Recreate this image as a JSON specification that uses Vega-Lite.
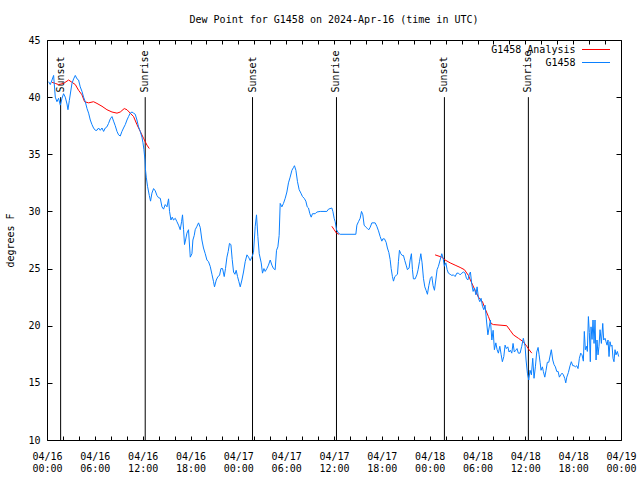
{
  "$schema": "https://vega.github.io/schema/vega-lite/v6.json",
  "width": 574,
  "height": 400,
  "autosize": "none",
  "padding": {"left": 47, "top": 40, "right": 19, "bottom": 40},
  "background": "white",
  "config": {
    "view": {"stroke": "black", "strokeWidth": 1},
    "font": "DejaVu Sans Mono",
    "axis": {"labelFont": "DejaVu Sans Mono", "labelFontSize": 10, "labelColor": "black", "titleFont": "DejaVu Sans Mono", "titleFontSize": 10, "titleFontWeight": "normal", "titleColor": "black", "grid": false, "domain": false, "tickColor": "black", "tickSize": -5, "labelPadding": 12}
  },
  "title": {"text": "Dew Point for G1458 on 2024-Apr-16 (time in UTC)", "font": "DejaVu Sans Mono", "fontSize": 10, "fontWeight": "normal", "color": "black", "offset": 10},
  "datasets": {
    "sun": [
      {"h": 1.71, "e": "Sunset"}, {"h": 12.32, "e": "Sunrise"}, {"h": 25.78, "e": "Sunset"},
      {"h": 36.31, "e": "Sunrise"}, {"h": 49.85, "e": "Sunset"}, {"h": 60.38, "e": "Sunrise"}
    ],
    "ana": [
      {"h": 0.63, "v": 41.3, "g": 1}, {"h": 1.04, "v": 41.2, "g": 1}, {"h": 1.45, "v": 41.1, "g": 1}, {"h": 2.08, "v": 41.2, "g": 1},
      {"h": 2.71, "v": 41.5, "g": 1}, {"h": 3.13, "v": 41.3, "g": 1}, {"h": 3.55, "v": 41.1, "g": 1}, {"h": 3.96, "v": 40.6, "g": 1},
      {"h": 4.39, "v": 40.2, "g": 1}, {"h": 4.71, "v": 39.6, "g": 1}, {"h": 5.22, "v": 39.5, "g": 1}, {"h": 5.84, "v": 39.6, "g": 1},
      {"h": 6.27, "v": 39.45, "g": 1}, {"h": 6.9, "v": 39.2, "g": 1}, {"h": 7.52, "v": 38.9, "g": 1}, {"h": 8.15, "v": 38.7, "g": 1},
      {"h": 8.78, "v": 38.6, "g": 1}, {"h": 9.19, "v": 38.7, "g": 1}, {"h": 9.69, "v": 39.0, "g": 1}, {"h": 10.03, "v": 38.9, "g": 1},
      {"h": 10.44, "v": 38.6, "g": 1}, {"h": 10.86, "v": 38.3, "g": 1}, {"h": 11.28, "v": 37.6, "g": 1}, {"h": 11.7, "v": 37.0, "g": 1},
      {"h": 12.11, "v": 36.4, "g": 1}, {"h": 12.54, "v": 35.8, "g": 1}, {"h": 12.83, "v": 35.5, "g": 1},
      {"h": 35.73, "v": 28.7, "g": 2}, {"h": 36.02, "v": 28.4, "g": 2}, {"h": 36.31, "v": 28.1, "g": 2}, {"h": 36.61, "v": 28.0, "g": 2},
      {"h": 48.68, "v": 26.2, "g": 3}, {"h": 49.52, "v": 26.0, "g": 3}, {"h": 49.94, "v": 25.75, "g": 3}, {"h": 50.57, "v": 25.5, "g": 3},
      {"h": 51.19, "v": 25.3, "g": 3}, {"h": 51.82, "v": 25.1, "g": 3}, {"h": 52.36, "v": 24.9, "g": 3}, {"h": 52.86, "v": 24.4, "g": 3},
      {"h": 53.2, "v": 23.85, "g": 3}, {"h": 53.7, "v": 23.1, "g": 3}, {"h": 54.12, "v": 22.5, "g": 3}, {"h": 54.62, "v": 22.1, "g": 3},
      {"h": 54.95, "v": 21.5, "g": 3}, {"h": 55.37, "v": 20.8, "g": 3}, {"h": 55.7, "v": 20.2, "g": 3}, {"h": 55.99, "v": 20.1, "g": 3},
      {"h": 57.67, "v": 20.0, "g": 3}, {"h": 58.09, "v": 19.6, "g": 3}, {"h": 58.5, "v": 19.2, "g": 3}, {"h": 59.13, "v": 18.9, "g": 3},
      {"h": 59.75, "v": 18.6, "g": 3}, {"h": 60.18, "v": 18.2, "g": 3}, {"h": 60.47, "v": 17.9, "g": 3}, {"h": 60.81, "v": 17.6, "g": 3}
    ],
    "obs": [
      {"h": 0.2, "v": 41.35}, {"h": 0.41, "v": 41.1}, {"h": 0.63, "v": 41.5}, {"h": 0.83, "v": 41.9}, {"h": 1.04, "v": 40.0},
      {"h": 1.25, "v": 39.6}, {"h": 1.45, "v": 39.9}, {"h": 1.67, "v": 39.3}, {"h": 1.88, "v": 39.9}, {"h": 2.08, "v": 40.3},
      {"h": 2.29, "v": 40.0}, {"h": 2.51, "v": 39.4}, {"h": 2.63, "v": 38.9}, {"h": 2.8, "v": 39.7}, {"h": 3.13, "v": 41.2},
      {"h": 3.34, "v": 41.6}, {"h": 3.55, "v": 41.9}, {"h": 3.76, "v": 41.6}, {"h": 3.96, "v": 41.5}, {"h": 4.17, "v": 40.9},
      {"h": 4.39, "v": 40.5}, {"h": 4.59, "v": 40.0}, {"h": 4.8, "v": 39.6}, {"h": 5.02, "v": 39.0}, {"h": 5.22, "v": 38.6},
      {"h": 5.43, "v": 38.0}, {"h": 5.64, "v": 37.6}, {"h": 5.84, "v": 37.3}, {"h": 6.06, "v": 37.1}, {"h": 6.27, "v": 37.1},
      {"h": 6.47, "v": 37.3}, {"h": 6.68, "v": 37.1}, {"h": 6.9, "v": 37.3}, {"h": 7.1, "v": 37.0}, {"h": 7.31, "v": 37.3},
      {"h": 7.52, "v": 37.4}, {"h": 7.72, "v": 37.7}, {"h": 7.94, "v": 38.1}, {"h": 8.15, "v": 38.3}, {"h": 8.35, "v": 37.9},
      {"h": 8.56, "v": 37.5}, {"h": 8.78, "v": 37.0}, {"h": 8.98, "v": 36.7}, {"h": 9.19, "v": 36.6}, {"h": 9.4, "v": 37.0},
      {"h": 9.6, "v": 37.3}, {"h": 9.82, "v": 37.6}, {"h": 10.03, "v": 38.0}, {"h": 10.23, "v": 38.3}, {"h": 10.44, "v": 38.6},
      {"h": 10.66, "v": 38.7}, {"h": 10.86, "v": 38.6}, {"h": 11.07, "v": 38.5}, {"h": 11.28, "v": 38.0}, {"h": 11.48, "v": 37.4},
      {"h": 11.7, "v": 37.0}, {"h": 11.91, "v": 36.5}, {"h": 12.04, "v": 36.0}, {"h": 12.16, "v": 35.4}, {"h": 12.29, "v": 34.5},
      {"h": 12.36, "v": 33.6}, {"h": 12.45, "v": 33.0}, {"h": 12.61, "v": 32.2}, {"h": 12.83, "v": 31.4}, {"h": 12.99, "v": 30.9},
      {"h": 13.16, "v": 31.6}, {"h": 13.37, "v": 32.0}, {"h": 13.58, "v": 31.8}, {"h": 13.79, "v": 31.4}, {"h": 13.99, "v": 31.2},
      {"h": 14.21, "v": 31.15}, {"h": 14.42, "v": 30.4}, {"h": 14.62, "v": 30.2}, {"h": 14.83, "v": 30.6}, {"h": 15.05, "v": 30.4},
      {"h": 15.25, "v": 31.1}, {"h": 15.37, "v": 30.0}, {"h": 15.55, "v": 29.25}, {"h": 15.71, "v": 29.5}, {"h": 15.87, "v": 29.25},
      {"h": 16.09, "v": 29.4}, {"h": 16.3, "v": 29.1}, {"h": 16.5, "v": 28.8}, {"h": 16.71, "v": 28.4}, {"h": 16.88, "v": 29.1},
      {"h": 17.0, "v": 29.7}, {"h": 17.13, "v": 28.4}, {"h": 17.25, "v": 27.1}, {"h": 17.38, "v": 27.5}, {"h": 17.55, "v": 28.1},
      {"h": 17.75, "v": 28.4}, {"h": 17.97, "v": 26.0}, {"h": 18.18, "v": 26.3}, {"h": 18.3, "v": 27.5}, {"h": 18.47, "v": 27.9},
      {"h": 18.59, "v": 28.4}, {"h": 18.81, "v": 28.7}, {"h": 19.01, "v": 29.0}, {"h": 19.22, "v": 28.6}, {"h": 19.43, "v": 27.5},
      {"h": 19.63, "v": 26.8}, {"h": 19.85, "v": 26.3}, {"h": 20.06, "v": 25.75}, {"h": 20.26, "v": 25.6}, {"h": 20.47, "v": 25.2},
      {"h": 20.69, "v": 24.5}, {"h": 20.89, "v": 23.85}, {"h": 21.01, "v": 23.4}, {"h": 21.23, "v": 24.0}, {"h": 21.44, "v": 24.3},
      {"h": 21.64, "v": 24.4}, {"h": 21.82, "v": 25.0}, {"h": 22.02, "v": 25.0}, {"h": 22.23, "v": 24.3}, {"h": 22.39, "v": 25.0},
      {"h": 22.57, "v": 26.0}, {"h": 22.73, "v": 26.5}, {"h": 22.89, "v": 27.2}, {"h": 23.07, "v": 27.1}, {"h": 23.23, "v": 25.8},
      {"h": 23.4, "v": 24.7}, {"h": 23.57, "v": 24.5}, {"h": 23.73, "v": 24.85}, {"h": 23.9, "v": 24.3}, {"h": 24.07, "v": 23.85},
      {"h": 24.24, "v": 23.4}, {"h": 24.45, "v": 24.0}, {"h": 24.65, "v": 24.7}, {"h": 24.86, "v": 25.6}, {"h": 25.08, "v": 26.2},
      {"h": 25.28, "v": 26.0}, {"h": 25.49, "v": 25.7}, {"h": 25.7, "v": 26.0}, {"h": 25.9, "v": 26.4}, {"h": 26.12, "v": 28.7},
      {"h": 26.28, "v": 29.7}, {"h": 26.45, "v": 27.8}, {"h": 26.62, "v": 26.3}, {"h": 26.87, "v": 25.5}, {"h": 27.03, "v": 24.6},
      {"h": 27.21, "v": 25.0}, {"h": 27.37, "v": 24.75}, {"h": 27.58, "v": 25.0}, {"h": 27.78, "v": 25.3}, {"h": 28.0, "v": 25.75},
      {"h": 28.21, "v": 25.3}, {"h": 28.41, "v": 25.0}, {"h": 28.62, "v": 24.9}, {"h": 28.79, "v": 26.6}, {"h": 28.96, "v": 26.9},
      {"h": 29.12, "v": 27.9}, {"h": 29.25, "v": 30.7}, {"h": 29.46, "v": 30.4}, {"h": 29.66, "v": 30.7}, {"h": 29.88, "v": 31.15},
      {"h": 30.09, "v": 31.7}, {"h": 30.29, "v": 32.5}, {"h": 30.5, "v": 33.0}, {"h": 30.72, "v": 33.6}, {"h": 30.92, "v": 33.85},
      {"h": 31.04, "v": 34.0}, {"h": 31.22, "v": 33.6}, {"h": 31.42, "v": 32.6}, {"h": 31.63, "v": 31.9}, {"h": 31.85, "v": 31.6},
      {"h": 32.05, "v": 31.3}, {"h": 32.26, "v": 31.15}, {"h": 32.47, "v": 30.9}, {"h": 32.64, "v": 30.4}, {"h": 32.8, "v": 30.3},
      {"h": 32.97, "v": 29.8}, {"h": 33.14, "v": 29.5}, {"h": 33.3, "v": 29.8}, {"h": 33.64, "v": 29.8}, {"h": 33.85, "v": 29.95},
      {"h": 34.27, "v": 30.0}, {"h": 35.11, "v": 30.0}, {"h": 35.31, "v": 30.2}, {"h": 35.73, "v": 30.3}, {"h": 35.86, "v": 30.0},
      {"h": 36.02, "v": 29.4}, {"h": 36.15, "v": 29.1}, {"h": 36.31, "v": 28.4}, {"h": 36.56, "v": 28.1}, {"h": 36.77, "v": 28.0},
      {"h": 38.74, "v": 28.0}, {"h": 38.87, "v": 28.8}, {"h": 39.07, "v": 29.1}, {"h": 39.28, "v": 29.4}, {"h": 39.45, "v": 30.0},
      {"h": 39.62, "v": 29.7}, {"h": 39.78, "v": 28.8}, {"h": 40.03, "v": 28.6}, {"h": 40.2, "v": 28.5}, {"h": 40.37, "v": 28.4},
      {"h": 40.53, "v": 28.6}, {"h": 40.75, "v": 29.0}, {"h": 41.16, "v": 29.0}, {"h": 41.37, "v": 28.7}, {"h": 41.58, "v": 28.3},
      {"h": 41.79, "v": 27.8}, {"h": 42.0, "v": 27.4}, {"h": 42.13, "v": 27.6}, {"h": 42.33, "v": 27.6}, {"h": 42.54, "v": 27.3},
      {"h": 42.7, "v": 26.8}, {"h": 42.88, "v": 26.4}, {"h": 43.04, "v": 25.8}, {"h": 43.17, "v": 25.0}, {"h": 43.33, "v": 24.3},
      {"h": 43.46, "v": 23.9}, {"h": 43.63, "v": 24.3}, {"h": 43.79, "v": 24.4}, {"h": 43.96, "v": 24.5}, {"h": 44.08, "v": 25.6},
      {"h": 44.21, "v": 26.6}, {"h": 44.38, "v": 26.3}, {"h": 44.55, "v": 26.15}, {"h": 44.71, "v": 26.15}, {"h": 44.88, "v": 25.7},
      {"h": 45.05, "v": 25.3}, {"h": 45.21, "v": 24.9}, {"h": 45.42, "v": 25.05}, {"h": 45.55, "v": 25.75}, {"h": 45.71, "v": 26.3},
      {"h": 45.84, "v": 24.9}, {"h": 45.96, "v": 24.1}, {"h": 46.18, "v": 24.1}, {"h": 46.39, "v": 24.45}, {"h": 46.55, "v": 24.9},
      {"h": 46.72, "v": 25.6}, {"h": 46.89, "v": 26.3}, {"h": 47.05, "v": 25.5}, {"h": 47.22, "v": 24.15}, {"h": 47.39, "v": 23.4},
      {"h": 47.55, "v": 23.1}, {"h": 47.72, "v": 22.75}, {"h": 47.89, "v": 23.5}, {"h": 48.09, "v": 24.15}, {"h": 48.27, "v": 24.3},
      {"h": 48.43, "v": 23.5}, {"h": 48.6, "v": 23.1}, {"h": 48.77, "v": 24.0}, {"h": 48.93, "v": 24.9}, {"h": 49.1, "v": 25.2},
      {"h": 49.31, "v": 25.75}, {"h": 49.52, "v": 26.3}, {"h": 49.69, "v": 25.9}, {"h": 49.85, "v": 25.2}, {"h": 50.03, "v": 25.5},
      {"h": 50.19, "v": 24.9}, {"h": 50.35, "v": 24.6}, {"h": 50.57, "v": 24.5}, {"h": 50.78, "v": 24.4}, {"h": 50.98, "v": 24.45},
      {"h": 51.19, "v": 24.3}, {"h": 51.41, "v": 24.6}, {"h": 51.61, "v": 24.6}, {"h": 51.82, "v": 24.45}, {"h": 52.03, "v": 24.6},
      {"h": 52.23, "v": 24.7}, {"h": 52.45, "v": 24.6}, {"h": 52.61, "v": 24.15}, {"h": 52.79, "v": 24.0}, {"h": 52.95, "v": 24.45},
      {"h": 53.11, "v": 24.7}, {"h": 53.29, "v": 23.6}, {"h": 53.45, "v": 23.0}, {"h": 53.62, "v": 23.3}, {"h": 53.8, "v": 22.7},
      {"h": 53.95, "v": 23.4}, {"h": 54.12, "v": 22.4}, {"h": 54.29, "v": 22.1}, {"h": 54.45, "v": 22.4}, {"h": 54.62, "v": 21.7},
      {"h": 54.79, "v": 21.4}, {"h": 54.95, "v": 21.8}, {"h": 55.12, "v": 20.5}, {"h": 55.3, "v": 19.2}, {"h": 55.45, "v": 19.8},
      {"h": 55.62, "v": 20.5}, {"h": 55.8, "v": 18.75}, {"h": 55.96, "v": 19.6}, {"h": 56.12, "v": 17.9}, {"h": 56.3, "v": 18.5},
      {"h": 56.46, "v": 17.9}, {"h": 56.62, "v": 17.6}, {"h": 56.8, "v": 18.2}, {"h": 56.96, "v": 17.5}, {"h": 57.12, "v": 16.85},
      {"h": 57.3, "v": 17.3}, {"h": 57.46, "v": 18.3}, {"h": 57.62, "v": 18.0}, {"h": 57.8, "v": 18.15}, {"h": 57.96, "v": 17.7},
      {"h": 58.12, "v": 17.85}, {"h": 58.3, "v": 17.6}, {"h": 58.46, "v": 18.45}, {"h": 58.62, "v": 17.7}, {"h": 58.8, "v": 17.85},
      {"h": 58.96, "v": 18.0}, {"h": 59.12, "v": 17.6}, {"h": 59.34, "v": 17.6}, {"h": 59.55, "v": 18.2}, {"h": 59.75, "v": 18.9},
      {"h": 59.97, "v": 18.2}, {"h": 60.09, "v": 17.0}, {"h": 60.26, "v": 15.85}, {"h": 60.43, "v": 15.25}, {"h": 60.59, "v": 16.1},
      {"h": 60.76, "v": 15.7}, {"h": 60.93, "v": 17.15}, {"h": 61.09, "v": 15.4}, {"h": 61.26, "v": 16.4}, {"h": 61.43, "v": 17.7},
      {"h": 61.6, "v": 18.1}, {"h": 61.72, "v": 17.5}, {"h": 61.85, "v": 16.8}, {"h": 61.97, "v": 16.1}, {"h": 62.14, "v": 16.4},
      {"h": 62.26, "v": 16.0}, {"h": 62.44, "v": 15.5}, {"h": 62.6, "v": 16.1}, {"h": 62.76, "v": 16.8}, {"h": 62.94, "v": 16.8},
      {"h": 63.1, "v": 17.35}, {"h": 63.26, "v": 17.9}, {"h": 63.44, "v": 17.0}, {"h": 63.6, "v": 16.6}, {"h": 63.77, "v": 16.4},
      {"h": 63.94, "v": 16.0}, {"h": 64.11, "v": 16.0}, {"h": 64.27, "v": 15.5}, {"h": 64.44, "v": 15.7}, {"h": 64.61, "v": 15.85},
      {"h": 64.77, "v": 15.7}, {"h": 64.94, "v": 15.4}, {"h": 65.07, "v": 15.0}, {"h": 65.2, "v": 15.5}, {"h": 65.4, "v": 15.9},
      {"h": 65.61, "v": 16.5}, {"h": 65.77, "v": 16.85}, {"h": 65.95, "v": 16.5}, {"h": 66.11, "v": 16.5}, {"h": 66.27, "v": 16.4},
      {"h": 66.45, "v": 16.5}, {"h": 66.61, "v": 16.25}, {"h": 66.78, "v": 17.15}, {"h": 66.95, "v": 17.6}, {"h": 67.11, "v": 17.45},
      {"h": 67.28, "v": 16.9}, {"h": 67.4, "v": 19.5}, {"h": 67.53, "v": 17.9}, {"h": 67.66, "v": 18.2}, {"h": 67.78, "v": 17.75},
      {"h": 67.91, "v": 20.8}, {"h": 68.03, "v": 19.4}, {"h": 68.15, "v": 16.85}, {"h": 68.24, "v": 19.9}, {"h": 68.37, "v": 18.8},
      {"h": 68.49, "v": 20.5}, {"h": 68.62, "v": 18.45}, {"h": 68.74, "v": 20.5}, {"h": 68.87, "v": 17.0}, {"h": 68.99, "v": 18.75},
      {"h": 69.12, "v": 17.45}, {"h": 69.24, "v": 18.2}, {"h": 69.37, "v": 19.65}, {"h": 69.54, "v": 18.45}, {"h": 69.71, "v": 20.2},
      {"h": 69.83, "v": 18.75}, {"h": 70.0, "v": 18.9}, {"h": 70.12, "v": 18.6}, {"h": 70.25, "v": 18.3}, {"h": 70.37, "v": 18.75},
      {"h": 70.5, "v": 17.3}, {"h": 70.62, "v": 18.6}, {"h": 70.75, "v": 18.2}, {"h": 70.87, "v": 18.3}, {"h": 71.0, "v": 17.15},
      {"h": 71.12, "v": 16.85}, {"h": 71.25, "v": 17.9}, {"h": 71.37, "v": 17.45}, {"h": 71.54, "v": 17.75}, {"h": 71.71, "v": 17.3}
    ]
  },
  "layer": [
    {
      "data": {"name": "sun"},
      "mark": {"type": "rule", "color": "black", "strokeWidth": 1},
      "encoding": {
        "x": {"field": "h", "type": "quantitative", "scale": {"domain": [0, 72], "nice": false, "zero": false},
              "axis": {"orient": "bottom", "title": null, "values": [0,2,4,6,8,10,12,14,16,18,20,22,24,26,28,30,32,34,36,38,40,42,44,46,48,50,52,54,56,58,60,62,64,66,68,70,72],
                       "labelExpr": "datum.value % 6 == 0 ? ['04/' + (16 + floor(datum.value / 24)), (datum.value % 24 < 10 ? '0' : '') + (datum.value % 24) + ':00'] : ''",
                       "labelBaseline": "top", "labelLineHeight": 12, "labelFlush": false, "labelOverlap": false, "labelPadding": 15, "tickSize": -4}},
        "y": {"datum": 10, "type": "quantitative", "scale": {"domain": [10, 45], "nice": false, "zero": false},
              "axis": {"orient": "left", "title": "degrees F", "values": [10,15,20,25,30,35,40,45], "labelPadding": 12, "tickSize": -5, "titlePadding": 12}},
        "y2": {"datum": 40}
      }
    },
    {
      "data": {"name": "ana"},
      "mark": {"type": "line", "strokeWidth": 1},
      "encoding": {
        "x": {"field": "h", "type": "quantitative", "axis": {"orient": "top", "title": null, "labels": false, "tickSize": -4, "values": [0,2,4,6,8,10,12,14,16,18,20,22,24,26,28,30,32,34,36,38,40,42,44,46,48,50,52,54,56,58,60,62,64,66,68,70,72]}},
        "y": {"field": "v", "type": "quantitative", "axis": {"orient": "right", "title": null, "labels": false, "tickSize": -5, "values": [10,15,20,25,30,35,40,45]}},
        "detail": {"field": "g"},
        "color": {"datum": "G1458 Analysis", "type": "nominal",
                  "scale": {"domain": ["G1458 Analysis", "G1458"], "range": ["#ff0000", "#0a80ff"]},
                  "legend": {"title": null, "orient": "none", "legendX": 541.5, "legendY": 2, "symbolType": "M-2,0H2", "symbolSize": 196, "symbolStrokeWidth": 1,
                             "labelAlign": "right", "labelOffset": -28, "labelFont": "DejaVu Sans Mono", "labelFontSize": 10, "labelColor": "black",
                             "rowPadding": 0, "padding": 0}}
      }
    },
    {
      "data": {"name": "obs"},
      "mark": {"type": "line", "strokeWidth": 1},
      "encoding": {
        "x": {"field": "h", "type": "quantitative", "axis": null},
        "y": {"field": "v", "type": "quantitative", "axis": null},
        "color": {"datum": "G1458", "type": "nominal"}
      }
    },
    {
      "data": {"name": "sun"},
      "mark": {"type": "text", "angle": 270, "align": "left", "baseline": "middle", "font": "DejaVu Sans Mono", "fontSize": 10, "color": "black"},
      "encoding": {
        "x": {"field": "h", "type": "quantitative", "axis": null},
        "y": {"datum": 40.4, "type": "quantitative", "axis": null},
        "text": {"field": "e"}
      }
    }
  ],
  "resolve": {"axis": {"x": "independent", "y": "independent"}}
}
